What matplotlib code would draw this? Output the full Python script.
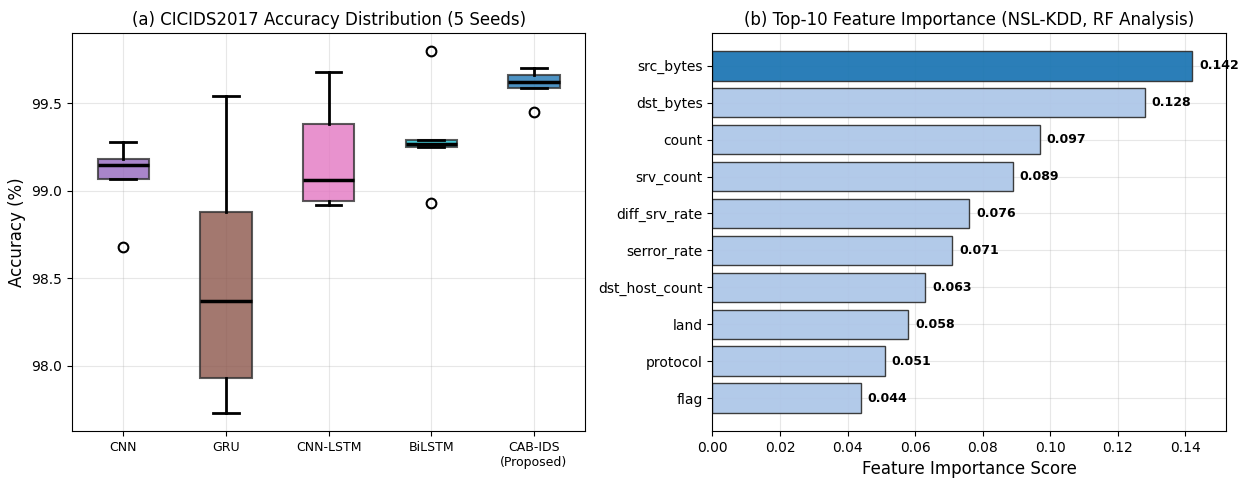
import matplotlib.pyplot as plt
import numpy as np

# (a) accuracy per seed
models = ["CNN", "GRU", "CNN-LSTM", "BiLSTM", "CAB-IDS\n(Proposed)"]
acc_cnn = [98.68, 99.07, 99.15, 99.18, 99.28]
acc_gru = [97.73, 97.93, 98.37, 98.88, 99.54]
acc_cnn_lstm = [98.92, 98.94, 99.06, 99.38, 99.68]
acc_bilstm = [98.93, 99.25, 99.27, 99.29, 99.80]
acc_cab_ids = [99.45, 99.59, 99.62, 99.66, 99.70]
box_colors = ["#9467bd", "#8c564b", "#e377c2", "#17becf", "#1f77b4"]

# (b) top-10 feature importance
features = ["src_bytes", "dst_bytes", "count", "srv_count", "diff_srv_rate",
            "serror_rate", "dst_host_count", "land", "protocol", "flag"]
importance = [0.142, 0.128, 0.097, 0.089, 0.076, 0.071, 0.063, 0.058, 0.051, 0.044]

plt.rcParams["font.family"] = "DejaVu Sans"

fig = plt.figure(figsize=(12.52, 4.84), dpi=100)
ax1 = fig.add_axes([0.0575, 0.1095, 0.41, 0.8225])
ax2 = fig.add_axes([0.569, 0.1095, 0.41, 0.8225])

data = [acc_cnn, acc_gru, acc_cnn_lstm, acc_bilstm, acc_cab_ids]
bp = ax1.boxplot(data, patch_artist=True, widths=0.5,
                 medianprops=dict(color="black", linewidth=2.5),
                 whiskerprops=dict(color="black", linewidth=2),
                 capprops=dict(color="black", linewidth=2),
                 flierprops=dict(marker="o", markerfacecolor="none",
                                 markeredgecolor="black", markersize=7,
                                 markeredgewidth=1.5))
for patch, c in zip(bp["boxes"], box_colors):
    patch.set_facecolor(c)
    patch.set_alpha(0.8)
    patch.set_edgecolor("#333333")
    patch.set_linewidth(1.5)
ax1.set_xticks(range(1, len(models) + 1))
ax1.set_xticklabels(models, fontsize=9)
ax1.set_ylabel("Accuracy (%)", fontsize=12)
ax1.set_title("(a) CICIDS2017 Accuracy Distribution (5 Seeds)", fontsize=12)
ax1.grid(True, alpha=0.3)
ax1.tick_params(axis="y", labelsize=10)

y = np.arange(len(features))
colors = ["#1f77b4"] + ["#aec7e8"] * (len(features) - 1)
ax2.barh(y, importance, color=colors, edgecolor="#333333", linewidth=1,
         height=0.8, alpha=0.95)
ax2.set_yticks(y)
ax2.set_yticklabels(features, fontsize=10)
ax2.invert_yaxis()
for yi, v in zip(y, importance):
    ax2.text(v + 0.002, yi, f"{v:.3f}", va="center", fontsize=9, fontweight="bold")
ax2.set_xlim(0, max(importance) * 1.07)
ax2.set_xlabel("Feature Importance Score", fontsize=12)
ax2.set_title("(b) Top-10 Feature Importance (NSL-KDD, RF Analysis)", fontsize=12)
ax2.grid(True, alpha=0.3)
ax2.set_axisbelow(True)
ax2.tick_params(axis="x", labelsize=10)

plt.savefig("out.png", dpi=100)
